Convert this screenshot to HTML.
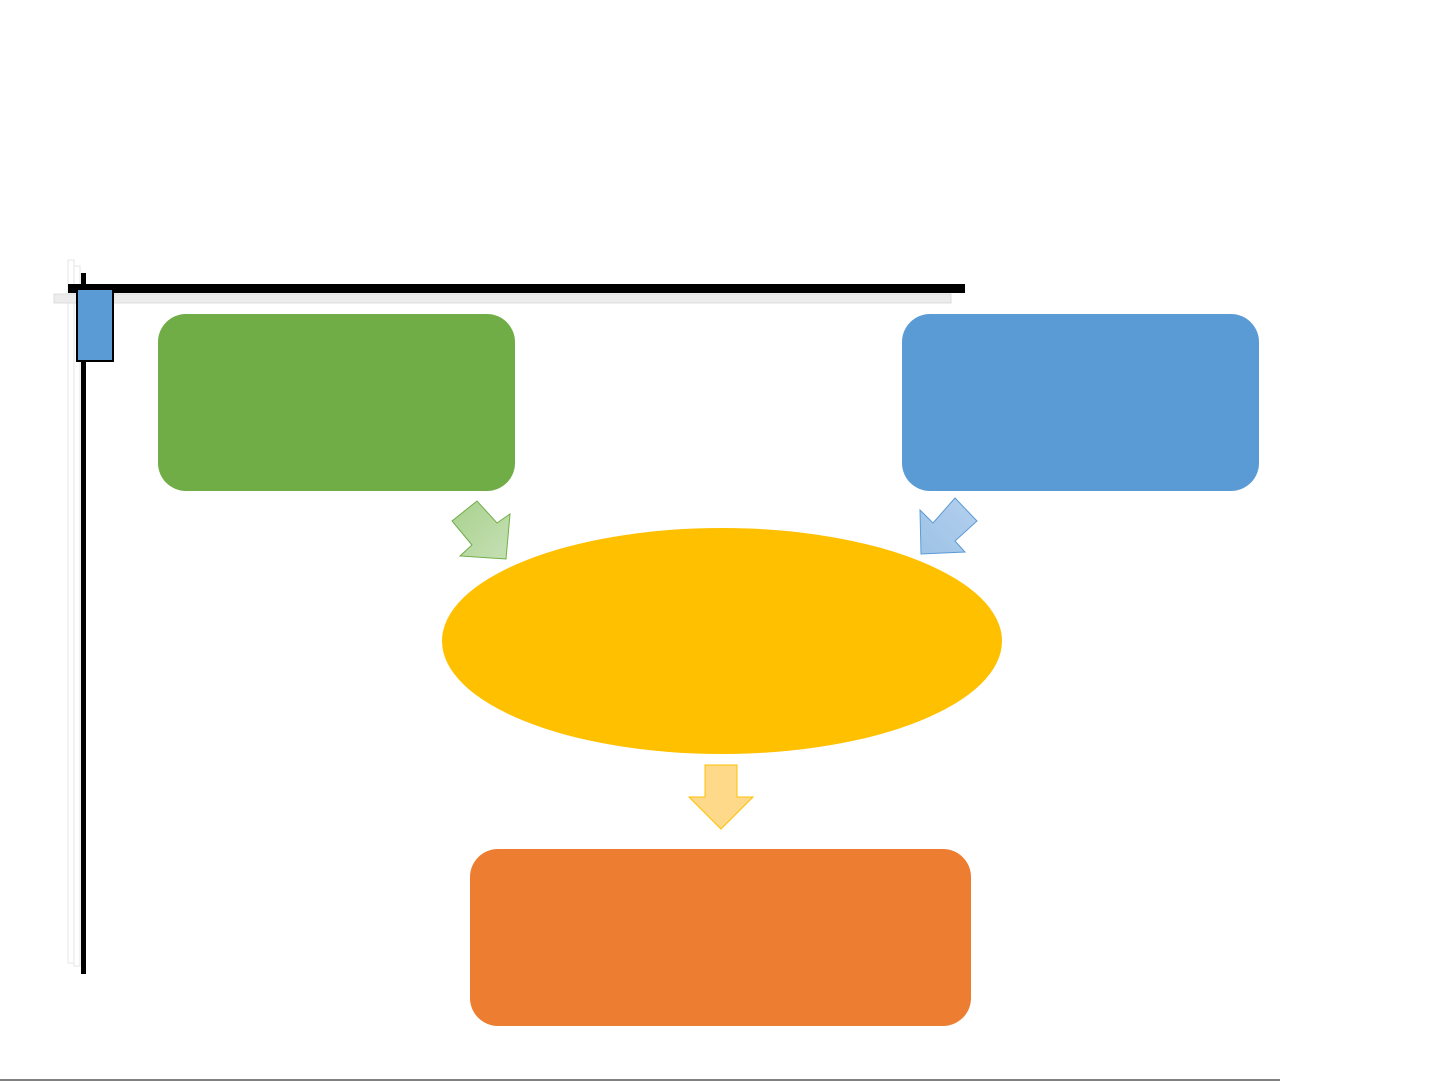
<!DOCTYPE html>
<html><head><meta charset="utf-8"><style>
html,body{margin:0;padding:0;background:#fff;width:1441px;height:1081px;overflow:hidden;font-family:"Liberation Sans",sans-serif}
</style></head><body>
<svg width="1441" height="1081" viewBox="0 0 1441 1081" xmlns="http://www.w3.org/2000/svg">
<defs>
<linearGradient id="g" x1="0" y1="0" x2="1" y2="1"><stop offset="0" stop-color="#a9d18e"/><stop offset="1" stop-color="#c5e0b4"/></linearGradient>
<linearGradient id="b" x1="0" y1="1" x2="1" y2="0"><stop offset="0" stop-color="#9dc3e6"/><stop offset="1" stop-color="#b4cfee"/></linearGradient>
</defs>
<rect x="68" y="260" width="6" height="703" fill="#fff" stroke="#e4e4e4" stroke-width="1"/>
<rect x="74" y="266" width="6" height="700" fill="#fff" stroke="#e4e4e4" stroke-width="1"/>
<rect x="54" y="294" width="897" height="9" fill="#ececec" stroke="#dcdcdc" stroke-width="1"/>
<rect x="81" y="273" width="5" height="701" fill="#000"/>
<rect x="68" y="284" width="897" height="9" fill="#000"/>
<rect x="77" y="289" width="36" height="72" fill="#5b9bd5" stroke="#000" stroke-width="2"/>
<rect x="158" y="314" width="357" height="177" rx="28" fill="#70ad47"/>
<rect x="902" y="314" width="357" height="177" rx="28" fill="#5b9bd5"/>
<ellipse cx="722" cy="641" rx="280" ry="113" fill="#ffc000"/>
<rect x="470" y="849" width="501" height="177" rx="28" fill="#ed7d31"/>
<polygon points="452,521 477,501 497,523 510,514 506,559 460,556 472,545" fill="url(#g)" stroke="#70ad47" stroke-width="1"/>
<polygon points="920,510 933,523 955,498 977,521 955,541 965,552 921,554" fill="url(#b)" stroke="#5b9bd5" stroke-width="1"/>
<polygon points="705,765 737,765 737,797 753,797 721,829 689,797 705,797" fill="#ffd98a" stroke="#ffc000" stroke-width="1"/>
<line x1="0" y1="1080" x2="1280" y2="1080" stroke="#000" stroke-width="1"/>
</svg>
</body></html>
